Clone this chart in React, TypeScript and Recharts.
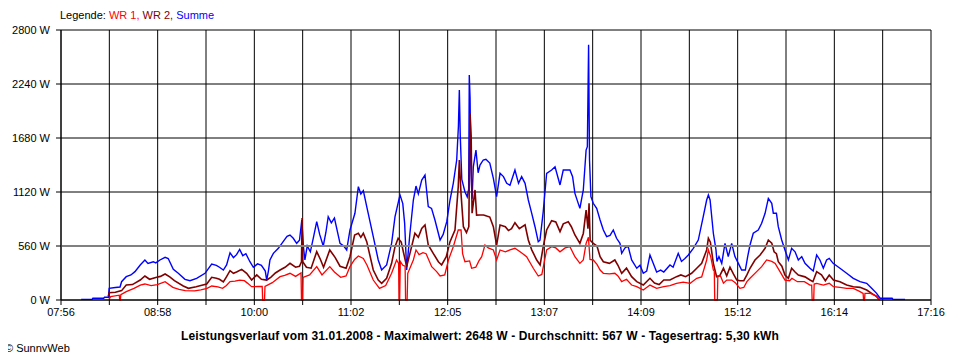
import React from "react"
import {
  LineChart,
  Line,
  XAxis,
  YAxis,
  CartesianGrid,
  ReferenceLine,
} from "recharts"

// minutes after 07:56, watts
const WR1: [number, number][] = [
  [31, 10], [32, 35], [37.5, 50], [37.8, 0], [38.2, 0], [38.5, 55], [42, 86], [47, 120], [51, 155], [54, 166],
  [58, 150], [62, 160], [67, 190], [72, 131], [76, 110], [80, 97], [86, 95], [90, 105], [94, 121], [97, 145],
  [101, 135], [104, 121], [106.5, 150], [108.8, 190], [112, 195], [115, 207], [118, 200], [120, 175], [122.7, 138], [127, 140],
  [129.5, 140], [129.8, 0], [131, 0], [131.3, 140], [136, 180], [141, 242], [144, 255], [147.4, 277], [151, 245], [154.5, 280],
  [154.8, 0], [155.5, 0], [155.8, 235], [160, 260], [164.6, 346], [168, 260], [173, 346], [176, 290], [180, 235], [183.5, 250],
  [186, 346], [189, 420], [191.4, 456], [194.6, 430], [197, 360], [201, 207], [205, 121], [209, 150], [212.8, 277], [216, 415],
  [217.3, 380], [217.6, 0], [218, 0], [218.4, 400], [220, 360], [221.5, 350], [221.8, 0], [222.8, 0], [223.2, 277], [226.8, 415],
  [228.5, 519], [230.5, 470], [233, 490], [235, 480], [238.6, 346], [241.8, 294], [244, 249], [247, 260], [249.4, 415], [252.5, 553],
  [255.7, 726], [257.5, 726], [258.5, 480], [260, 397], [263, 405], [264.3, 329], [267, 340], [269, 405], [270.8, 449], [272.9, 570],
  [275, 540], [278.3, 519], [280.4, 415], [282.6, 519], [286, 500], [289, 519], [292.2, 536], [295.5, 500], [299.7, 450], [304, 329],
  [307.2, 249], [309.5, 265], [312.6, 519], [315.8, 553], [318.5, 540], [321.2, 500], [324.5, 540], [327.6, 553], [330.8, 449], [334, 380],
  [336.2, 415], [338, 588], [339.5, 650], [340.5, 420], [342.6, 415], [345, 370], [347, 311], [349.1, 277], [353, 270], [356.5, 277],
  [358.5, 250], [360.9, 190], [364, 215], [367.3, 155], [370.6, 138], [374.8, 104], [379.1, 155], [383.4, 120], [388, 138], [392, 150],
  [396.2, 173], [400.5, 185], [405, 173], [409.2, 225], [412.4, 240], [415.6, 415], [416.7, 519], [418.2, 450], [419.9, 311], [420.5, 300],
  [420.8, 0], [422.5, 0], [422.8, 250], [424.5, 250], [426.4, 175], [428.5, 207], [431.7, 207], [434, 180], [437, 121], [439.5, 130],
  [441.5, 190], [443.5, 225], [447.8, 294], [451, 346], [454.2, 415], [457.5, 400], [459.7, 380], [462.8, 294], [466, 207], [469, 200],
  [470.5, 225], [474, 190], [478.5, 190], [482.1, 155], [483.2, 155], [483.5, 0], [484.5, 0], [484.8, 165], [486.4, 173], [490.7, 155],
  [494.5, 173], [497.2, 138], [501.4, 130], [505.7, 121], [510, 121], [514, 90], [516.3, 69], [516.6, 0], [517.2, 0], [517.5, 69],
  [521, 69], [525, 40], [526.5, 10], [527, 0],
]

const WR2: [number, number][] = [
  [30.5, 40], [31, 75], [35, 80], [39, 97], [42, 155], [46, 160], [51, 207], [54, 249], [57, 215], [61.6, 235],
  [64, 245], [67, 270], [70, 240], [73, 200], [78.7, 145], [82, 121], [87, 138], [90, 150], [93.8, 166], [97, 235],
  [100, 225], [102, 215], [104.5, 187], [106.5, 240], [108.8, 304], [111, 277], [113, 290], [116.3, 318], [119.5, 277], [122.7, 207],
  [126, 260], [129, 215], [132.4, 207], [135, 235], [138, 280], [141, 311], [144.2, 339], [147.4, 380], [151, 340], [153.5, 350],
  [154.8, 397], [155.2, 850], [155.6, 397], [158, 340], [161, 330], [164.6, 501], [167, 420], [169, 340], [173, 519], [176.5, 440],
  [179.6, 350], [183.5, 330], [186, 449], [189, 674], [191.4, 692], [193, 650], [194.6, 692], [196.8, 605], [201, 311], [204.2, 207],
  [206.4, 173], [209.6, 225], [212.8, 380], [215, 553], [217, 640], [219, 600], [220.5, 490], [222.5, 346], [224.6, 484], [227.8, 692],
  [230, 650], [232.2, 743], [234.3, 778], [236.4, 570], [239.6, 484], [242.9, 397], [245, 363], [248, 450], [250.4, 605], [253.6, 726],
  [255.7, 1175], [256.4, 1452], [257.5, 1100], [259, 760], [261, 700], [262.5, 760], [263.3, 1936], [264, 1700], [264.6, 900], [266.5, 1141],
  [267.5, 880], [269.7, 881], [272, 881], [274, 870], [276, 860], [278.3, 760], [280.4, 570], [282.6, 778], [286, 760], [288, 720],
  [290, 740], [292.2, 802], [295, 740], [298.7, 780], [300.8, 622], [303, 520], [306.2, 415], [308.4, 363], [310.4, 553], [312.6, 726],
  [315.8, 823], [318.5, 810], [321.2, 709], [323.3, 790], [326.5, 812], [328.5, 760], [330.8, 674], [334, 588], [336.2, 690], [338, 933],
  [339.2, 740], [339.9, 1003], [340.6, 620], [342.6, 588], [345, 560], [347, 449], [349.1, 397], [353, 380], [356.5, 415], [358.5, 360],
  [360.9, 277], [364, 330], [367.3, 242], [370.6, 190], [374.8, 155], [379.1, 225], [382, 175], [385, 160], [388, 207], [392, 207],
  [396.2, 242], [399, 260], [402, 242], [405.9, 277], [409.2, 329], [412.4, 380], [415.6, 519], [416.7, 640], [418, 600], [419.9, 380],
  [422, 242], [424, 250], [426.4, 329], [428.5, 250], [430.6, 340], [432.8, 270], [435, 207], [437, 200], [439.5, 200], [441.5, 260],
  [443.5, 329], [446.7, 415], [450, 467], [453.2, 536], [455.3, 622], [457.5, 590], [459, 500], [460.5, 480], [461.7, 397], [464, 350],
  [466, 259], [468.2, 225], [470.3, 329], [472.5, 290], [474.6, 259], [478.9, 240], [482.1, 207], [484, 190], [486.4, 294], [489.5, 260],
  [492, 200], [494.5, 259], [497.2, 207], [501.4, 190], [505.7, 155], [510, 138], [514.3, 131], [518.6, 104], [521.8, 69], [525, 35],
  [527, 0],
]

const SUMME: [number, number][] = [
  [13, 7], [20, 7], [20.5, 18], [27.5, 18], [28, 28], [30.5, 28], [31, 121], [35, 130], [38, 135], [39, 190],
  [42, 242], [45, 260], [47.6, 294], [51, 363], [54, 415], [56, 380], [59.4, 397], [61, 385], [63.7, 415], [67, 443],
  [69, 430], [72.3, 318], [75.5, 277], [79.8, 214], [83, 200], [87.3, 225], [92.7, 277], [97, 373], [100, 360], [102, 340],
  [104.5, 311], [106.6, 363], [108.8, 490], [111, 440], [113, 470], [115, 525], [117, 460], [119, 480], [121.6, 397], [123.8, 339],
  [126.5, 375], [129, 360], [131.5, 300], [132.4, 207], [133.5, 300], [134.5, 415], [136.7, 484], [139.9, 536], [143, 605], [145.5, 660],
  [147.4, 674], [149.5, 640], [151.7, 588], [153.5, 620], [155, 830], [156, 560], [157, 415], [158.5, 560], [160.5, 500], [162.5, 650],
  [164.6, 812], [166.5, 680], [168.8, 560], [170.5, 700], [172, 864], [174, 800], [176, 850], [179.6, 588], [182, 560], [183.9, 519],
  [186, 726], [189.2, 899], [191.4, 1175], [193, 1100], [194.6, 1134], [196.8, 968], [201, 657], [204.2, 415], [206.4, 311], [209.6, 363],
  [212.8, 588], [215, 864], [218.2, 1090], [220, 1000], [221.2, 795], [222.5, 311], [224.6, 692], [226.8, 1037], [228.5, 1182], [230, 1100],
  [232.2, 1244], [234.3, 1296], [236.4, 968], [238.5, 950], [240.7, 830], [244, 622], [246, 680], [248.3, 812], [250.4, 1037], [252.5, 1210],
  [254.7, 1452], [255.8, 1800], [256.4, 2178], [257, 1700], [258, 1250], [260, 1123], [261.5, 1070], [262.4, 1150], [262.8, 2333], [263.3, 2100],
  [263.8, 1400], [264.6, 1050], [265.4, 1380], [267.1, 1555], [268.5, 1320], [269.7, 1400], [271.8, 1452], [273.5, 1460], [276, 1420], [278.3, 1262],
  [280.4, 1071], [282.6, 1314], [284.8, 1280], [286.9, 1210], [289, 1190], [292.2, 1348], [294.5, 1210], [296.5, 1279], [298.7, 1210], [300.8, 1037],
  [303, 899], [305.1, 760], [307.2, 605], [308.3, 620], [310.4, 916], [312.6, 1314], [315.8, 1348], [318, 1382], [321.2, 1193], [323.3, 1348],
  [326.5, 1348], [327.6, 1348], [329.3, 1279], [330.8, 1106], [334, 950], [336.2, 1141], [338, 1555], [338.8, 1590], [339.6, 2648], [340.2, 1450],
  [341.1, 1071], [342.6, 1003], [344.8, 950], [347, 830], [349.1, 726], [351.2, 657], [353.4, 670], [355.5, 726], [357.6, 640], [359.8, 588],
  [360.9, 484], [363, 540], [365, 560], [367.3, 415], [370.6, 329], [372.7, 360], [374.8, 277], [377, 300], [379.1, 467], [381.2, 380],
  [383.4, 290], [386, 310], [388, 290], [392, 363], [394, 340], [397.3, 484], [399.4, 400], [401.6, 430], [403.8, 467], [407, 536],
  [410.2, 622], [413.4, 864], [415.6, 1037], [416.7, 1089], [417.8, 1037], [419.9, 692], [421.6, 519], [422.2, 400], [423.5, 450], [425.3, 380],
  [427.4, 588], [429.5, 450], [431.7, 588], [433.8, 450], [436, 380], [438.1, 311], [440.5, 311], [442, 450], [443.5, 570], [445.6, 692],
  [448.8, 726], [451, 795], [453.2, 899], [455.3, 1054], [457.5, 1003], [458.5, 900], [460.5, 900], [461.7, 760], [463.9, 622], [466, 519],
  [468.2, 415], [470.3, 536], [472.5, 500], [474.6, 415], [476.8, 450], [478.9, 380], [482.1, 329], [484.2, 300], [486.4, 467], [488.5, 415],
  [490.7, 330], [492.8, 415], [494.5, 432], [497, 380], [501.4, 329], [505.7, 277], [510, 225], [514.3, 190], [518.6, 173], [521.8, 121],
  [525, 69], [527.2, 18], [535, 18], [535.5, 7], [543.3, 7],
]

const TIME_LABELS = ["07:56", "08:58", "10:00", "11:02", "12:05", "13:07", "14:09", "15:12", "16:14", "17:16"]
const Y_TICKS = [0, 560, 1120, 1680, 2240, 2800]
const SPAN = 560

const X_TICKS = Array.from({ length: 19 }, (_, i) => (i * SPAN) / 18)

const toRows = (arr: [number, number][]) => arr.map(([t, w]) => ({ t, w }))

const FONT = "'Liberation Sans', Arial, sans-serif"

export default function App() {
  return (
    <div
      style={{
        position: "relative",
        width: 960,
        height: 360,
        margin: -8,
        background: "#fff",
        fontFamily: FONT,
        fontSize: 11,
        overflow: "hidden",
      }}
    >
      <div style={{ position: "absolute", left: 60, top: 9, whiteSpace: "nowrap" }}>
        Legende: <span style={{ color: "#ff0000" }}>WR 1, </span>
        <span style={{ color: "#800000" }}>WR 2, </span>
        <span style={{ color: "#0000ff" }}>Summe</span>
      </div>

      <LineChart
        width={960}
        height={360}
        margin={{ top: 30, right: 29, bottom: 0, left: 0 }}
      >
        <CartesianGrid
          stroke="#000"
          strokeWidth={1}
          horizontalValues={Y_TICKS}
          verticalValues={X_TICKS}
        />
        <XAxis
          dataKey="t"
          type="number"
          domain={[0, SPAN]}
          ticks={X_TICKS}
          interval={0}
          height={60}
          tickSize={5}
          tickMargin={3}
          stroke="#000"
          tick={{ fill: "#000", fontSize: 11, fontFamily: FONT }}
          tickFormatter={(_v: number, i: number) => (i % 2 === 0 ? TIME_LABELS[i / 2] : "")}
          allowDataOverflow
        />
        <YAxis
          type="number"
          domain={[0, 2800]}
          ticks={Y_TICKS}
          width={61}
          tickSize={5}
          tickMargin={6}
          stroke="#000"
          tick={{ fill: "#000", fontSize: 11, fontFamily: FONT }}
          tickFormatter={(v: number) => `${v} W`}
        />
        <Line
          data={toRows(SUMME)}
          dataKey="w"
          name="Summe"
          stroke="#0000ff"
          strokeWidth={1.4}
          dot={false}
          activeDot={false}
          isAnimationActive={false}
        />
        <Line
          data={toRows(WR2)}
          dataKey="w"
          name="WR 2"
          stroke="#800000"
          strokeWidth={1.6}
          dot={false}
          activeDot={false}
          isAnimationActive={false}
        />
        <Line
          data={toRows(WR1)}
          dataKey="w"
          name="WR 1"
          stroke="#ff0000"
          strokeWidth={1.3}
          dot={false}
          activeDot={false}
          isAnimationActive={false}
        />
        <ReferenceLine y={560} stroke="#808080" strokeWidth={2} />
      </LineChart>

      <div
        style={{
          position: "absolute",
          left: 0,
          width: 960,
          top: 329,
          textAlign: "center",
          fontWeight: "bold",
          fontSize: 12,
          letterSpacing: 0.15,
          whiteSpace: "nowrap",
        }}
      >
        Leistungsverlauf vom 31.01.2008 - Maximalwert: 2648 W - Durchschnitt: 567 W - Tagesertrag: 5,30 kWh
      </div>
      <div style={{ position: "absolute", left: 5, top: 342, whiteSpace: "nowrap" }}>
        © SunnyWeb
      </div>
    </div>
  )
}
